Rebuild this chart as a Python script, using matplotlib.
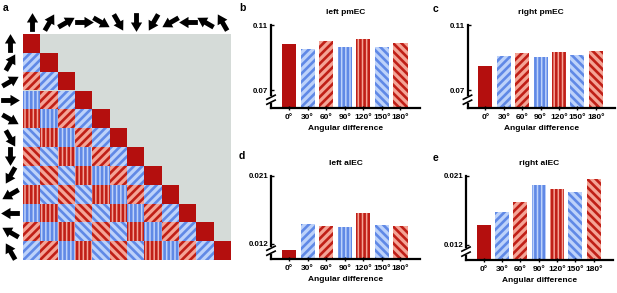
import matplotlib
matplotlib.use('Agg')
import matplotlib.pyplot as plt
import numpy as np
from matplotlib.path import Path
from matplotlib.markers import MarkerStyle
from matplotlib.transforms import Affine2D

plt.rcParams['font.family'] = ['Liberation Sans', 'DejaVu Sans']
plt.rcParams['font.weight'] = 'bold'
plt.rcParams['hatch.linewidth'] = 1.9

# ---------------- data ----------------
angle_labels = ['0°', '30°', '60°', '90°', '120°', '150°', '180°']
direction_angles = [0, 30, 60, 90, 120, 150, 180, 210, 240, 270, 300, 330]

left_pmEC = [0.0981, 0.0954, 0.1002, 0.0965, 0.1012, 0.0963, 0.0991]
right_pmEC = [0.0848, 0.0909, 0.0926, 0.0901, 0.0934, 0.0919, 0.0940]
left_alEC = [0.01116, 0.0146, 0.01443, 0.01425, 0.0161, 0.01451, 0.01443]
right_alEC = [0.01456, 0.01624, 0.01756, 0.01986, 0.01933, 0.01893, 0.0206]

pm_ticks = [0.07, 0.11]
pm_ticklabels = ['0.07', '0.11']
al_ticks = [0.012, 0.021]
al_ticklabels = ['0.012', '0.021']

# ---------------- styles ----------------
RED_DARK = '#b40f0e'
RED_LIGHT = '#f4a496'
RED_HATCH = '#c01f17'
BLUE_LIGHT = '#bdd2fa'
BLUE_HATCH = '#6089e6'
GREY_BG = '#d5dbd8'

styles = [
    dict(fc=RED_DARK, ec=RED_DARK, hatch=None),
    dict(fc=BLUE_LIGHT, ec=BLUE_HATCH, hatch='////'),
    dict(fc=RED_LIGHT, ec=RED_HATCH, hatch='////'),
    dict(fc=BLUE_LIGHT, ec=BLUE_HATCH, hatch='||||'),
    dict(fc=RED_LIGHT, ec=RED_HATCH, hatch='||||'),
    dict(fc=BLUE_LIGHT, ec=BLUE_HATCH, hatch='\\\\\\\\'),
    dict(fc=RED_LIGHT, ec=RED_HATCH, hatch='\\\\\\\\'),
]

W, H = 617, 293
fig = plt.figure(figsize=(W / 100, H / 100), dpi=100)


def rect_px(left, top, right, bottom):
    return [left / W, 1 - bottom / H, (right - left) / W, (bottom - top) / H]


# ---------------- panel a ----------------
n = len(direction_angles)
ax = fig.add_axes(rect_px(23, 34, 231, 260))
ax.set_xlim(0, n)
ax.set_ylim(n, 0)
ax.set_facecolor(GREY_BG)
for s in ax.spines.values():
    s.set_visible(False)
ax.set_xticks([])
ax.set_yticks([])
for i in range(n):
    for j in range(i + 1):
        d = i - j
        k = min(d, n - d)
        st = styles[k]
        ax.bar(j, 1, bottom=i, width=1, align='edge', color=st['fc'],
               edgecolor=st['ec'], hatch=st['hatch'], linewidth=0)

arrow_verts = [(-0.13, -0.5), (0.13, -0.5), (0.13, 0.0), (0.3, 0.0),
               (0.0, 0.5), (-0.3, 0.0), (-0.13, 0.0), (-0.13, -0.5)]
arrow_codes = [Path.MOVETO] + [Path.LINETO] * 6 + [Path.CLOSEPOLY]
arrow_path = Path(arrow_verts, arrow_codes)

for idx, ang in enumerate(direction_angles):
    m = MarkerStyle(arrow_path, transform=Affine2D().rotate_deg(-ang))
    ax.plot(idx + 0.5, -0.66, marker=m, ms=13.5, color='black', mew=0,
            clip_on=False, linestyle='none')
    ax.plot(-0.76, idx + 0.5, marker=m, ms=13.5, color='black', mew=0,
            clip_on=False, linestyle='none')

fig.text(3 / W, 1 - 8 / H, 'a', fontsize=7.5, fontweight='bold', va='center')


# ---------------- bar panels ----------------
def bar_panel(rect, vals, title, yticks, yticklabels, ylo, letter, letter_xy):
    ax = fig.add_axes(rect)
    x = np.arange(len(vals))
    for k, v in enumerate(vals):
        st = styles[k]
        ax.bar(x[k], v - ylo, bottom=ylo, width=0.76, color=st['fc'],
               edgecolor=st['ec'], hatch=st['hatch'], linewidth=0)
    ax.set_xlim(-0.97, 7.05)
    ax.set_ylim(ylo, yticks[-1])
    ax.spines['top'].set_visible(False)
    ax.spines['right'].set_visible(False)
    for s in ('left', 'bottom'):
        ax.spines[s].set_linewidth(1.6)
    ax.set_xticks(x, angle_labels)
    ax.set_yticks(yticks, yticklabels)
    ax.tick_params(axis='x', direction='inout', length=3, width=1, pad=2.5,
                   labelsize=6)
    ax.tick_params(axis='y', direction='in', length=2.5, width=1, pad=2,
                   labelsize=5.7)
    ax.set_xlabel('Angular difference', fontsize=6, fontweight='bold',
                  labelpad=3)
    ax.set_title(title, fontsize=6, fontweight='bold', pad=8)
    # axis break mark
    ax.plot([0, 0], [0.055, 0.145], transform=ax.transAxes, color='white',
            lw=3, clip_on=False, zorder=5, solid_capstyle='butt')
    for yc in (0.07, 0.13):
        ax.plot([-0.028, 0.028], [yc - 0.025, yc + 0.025],
                transform=ax.transAxes, color='black', lw=1.2,
                clip_on=False, zorder=6)
    fig.text(letter_xy[0] / W, 1 - letter_xy[1] / H, letter, fontsize=7.5,
             fontweight='bold', va='center')
    return ax


bar_panel(rect_px(271, 25, 420, 108), left_pmEC, 'left pmEC', pm_ticks,
          pm_ticklabels, 0.0591, 'b', (239, 8))
bar_panel(rect_px(467.5, 25, 615, 108), right_pmEC, 'right pmEC', pm_ticks,
          pm_ticklabels, 0.0591, 'c', (433, 9))
bar_panel(rect_px(271, 176, 420, 259), left_alEC, 'left alEC', al_ticks,
          al_ticklabels, 0.0100, 'd', (239, 156))
bar_panel(rect_px(466, 176, 613, 260), right_alEC, 'right alEC', al_ticks,
          al_ticklabels, 0.0100, 'e', (433, 158))

fig.savefig('out.png', dpi=100)
